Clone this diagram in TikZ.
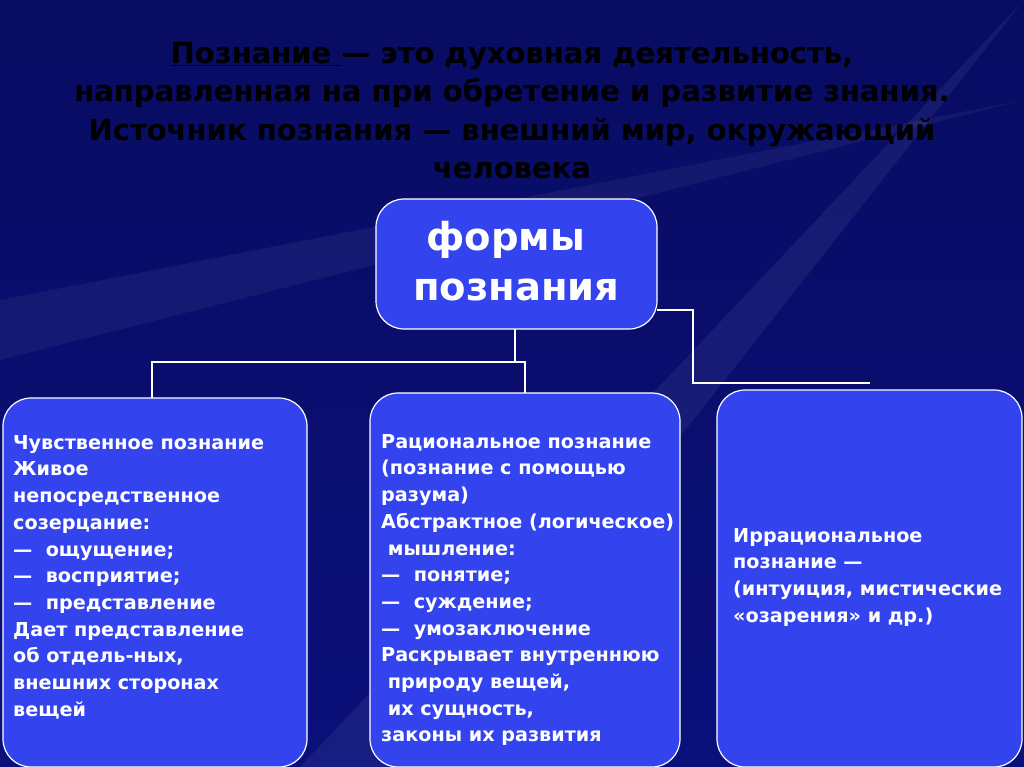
\documentclass[tikz,border=0pt]{standalone}
\usepackage{fontspec}
\setmainfont{DejaVu Sans}
\begin{document}
\begin{tikzpicture}[x=1pt,y=-1pt,
  box/.style={draw=white,line width=1.2pt,fill=boxblue,rounded corners=28pt},
  body/.style={text=white,font=\bfseries\fontsize{19.2}{26.7}\selectfont,align=left,anchor=north west,inner sep=0pt},
  wire/.style={draw=white,line width=2.5pt}]
\definecolor{bgblue}{HTML}{0A0F7A}
\definecolor{boxblue}{HTML}{3344EE}
\useasboundingbox (0,0) rectangle (1024,767);
\shade[top color=bgblue!80!black,bottom color=bgblue] (0,0) rectangle (1024,767);
\fill[white,opacity=0.06] (1024,0) -- (300,767) -- (420,767) -- cycle;
\fill[white,opacity=0.05] (1024,100) -- (0,300) -- (0,360) -- cycle;
\node[font=\bfseries\fontsize{29}{38.5}\selectfont,text=black,align=center,anchor=north,inner sep=0pt] (title) at (512,42)
 {\underline{Познание }— это духовная деятельность,\\направленная на при обретение и развитие знания.\\Источник познания — внешний мир, окружающий\\человека};
\draw[box] (376,199) rectangle (657,329);
\node[text=white,font=\bfseries\fontsize{38.5}{50}\selectfont,align=left,anchor=north west,inner sep=0pt] (top) at (413,221) {\ формы\\познания};
\coordinate (tb) at (515,329);
\coordinate (tr) at (657,310);
\draw[box] (3,398) rectangle (307,767);
\draw[box] (370,393) rectangle (680,767);
\draw[box] (717,390) rectangle (1022,767);
\draw[wire] (tb) -- (515,362) -- (152,362) -- (152,398);
\draw[wire] (515,362) -- (525,362) -- (525,393);
\draw[wire] (tr) -- (693,310) -- (693,383) -- (870,383);
\node[body] (l) at (13,435) {Чувственное познание\\Живое\\непосредственное\\созерцание:\\—\ \ ощущение;\\—\ \ восприятие;\\—\ \ представление\\Дает представление\\об отдель-ных,\\внешних сторонах\\вещей};
\node[body] (m) at (381,434) {Рациональное познание\\(познание с помощью\\разума)\\Абстрактное (логическое)\\\ мышление:\\—\ \ понятие;\\—\ \ суждение;\\—\ \ умозаключение\\Раскрывает внутреннюю\\\ природу вещей,\\\ их сущность,\\законы их развития};
\node[body] (r) at (733,528) {Иррациональное\\познание —\\(интуиция, мистические\\«озарения» и др.)};
\end{tikzpicture}
\end{document}
